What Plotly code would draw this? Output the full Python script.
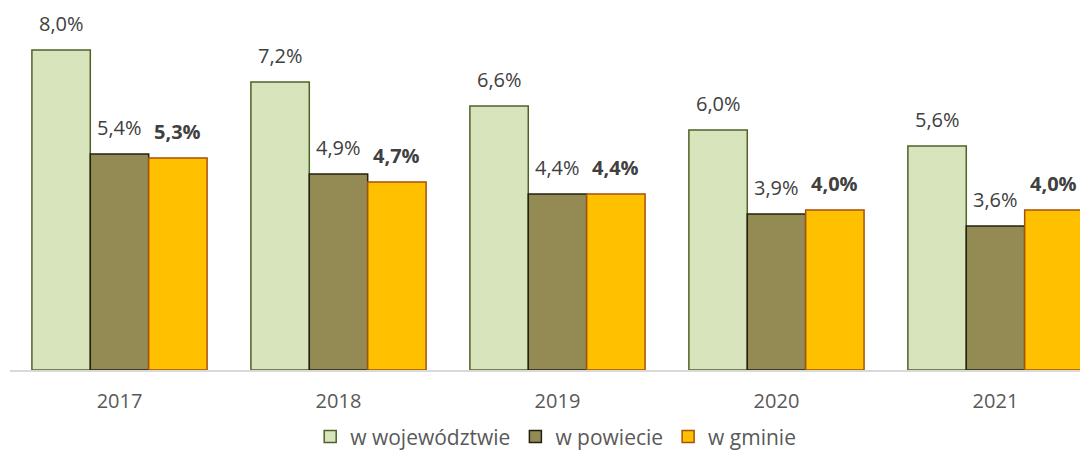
import plotly.graph_objects as go

years = ["2017", "2018", "2019", "2020", "2021"]
woj = [8.0, 7.2, 6.6, 6.0, 5.6]
pow_ = [5.4, 4.9, 4.4, 3.9, 3.6]
gmi = [5.3, 4.7, 4.4, 4.0, 4.0]
names = ["w województwie", "w powiecie", "w gminie"]

FONT = "Open Sans"
BARGAP = 0.2
fig = go.Figure()
specs = [
    (woj, names[0], "#d8e4bc", "#4f6228", False),
    (pow_, names[1], "#948a54", "#23220f", False),
    (gmi, names[2], "#ffc000", "#a5520c", True),
]
n = len(specs)
bw = (1 - BARGAP) / n
for k, (vals, nm, fill, line, bold) in enumerate(specs):
    fig.add_trace(go.Bar(
        x=years, y=vals, name=nm,
        marker=dict(color=fill, line=dict(color=line, width=1.5)),
    ))
    for i, v in enumerate(vals):
        txt = f"{v:.1f}%".replace(".", ",")
        if bold:
            txt = f"<b>{txt}</b>"
        fig.add_annotation(
            x=i + (k - (n - 1) / 2) * bw, y=v, text=txt, showarrow=False,
            xref="x", yref="y", yanchor="bottom", yshift=11,
            font=dict(size=20, color="#404040", family=FONT),
        )

fig.update_layout(
    width=1089, height=455,
    margin=dict(l=10, r=9, t=10, b=85, autoexpand=False),
    paper_bgcolor="white", plot_bgcolor="white",
    barmode="group", bargap=BARGAP, bargroupgap=0,
    separators=", ",
    font=dict(family=FONT, size=20, color="#595959"),
    showlegend=True,
    legend=dict(orientation="h", x=0.51, xanchor="center", y=-0.186, yanchor="middle",
                font=dict(size=21, color="#595959"), traceorder="normal",
                itemwidth=30),
    xaxis=dict(type="category", range=[-0.5, 4.386], automargin=False,
               showline=True, linecolor="#d9d9d9", linewidth=1.5,
               ticks="outside", ticklen=12, tickcolor="rgba(0,0,0,0)",
               tickfont=dict(size=20, color="#595959")),
    yaxis=dict(range=[0, 9], visible=False, automargin=False),
)
fig.write_html("out.html", config={"displayModeBar": False},
               post_script="document.body.style.margin='0';")
